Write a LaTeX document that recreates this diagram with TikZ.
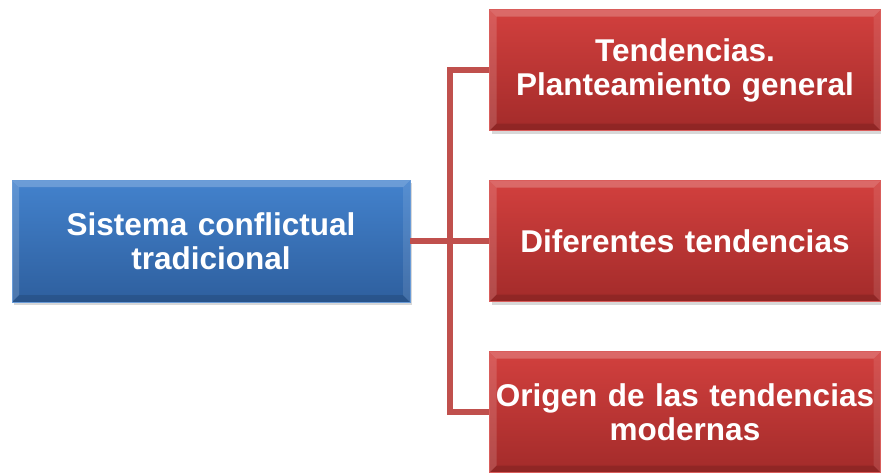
\documentclass[tikz,border=0pt]{standalone}
\usepackage{fontspec}
\setmainfont{Liberation Sans}
\usetikzlibrary{shadows}
\definecolor{bluetop}{HTML}{4382CD}
\definecolor{bluebot}{HTML}{2E5F9E}
\definecolor{redtop}{HTML}{D2403E}
\definecolor{redbot}{HTML}{A32B2A}
\definecolor{linec}{HTML}{C0504D}
\tikzset{
  bevel/.style={path picture={
    \fill[white,opacity=0.22] (path picture bounding box.north west) -- (path picture bounding box.north east)
      -- ([shift={(-7pt,-7pt)}]path picture bounding box.north east) -- ([shift={(7pt,-7pt)}]path picture bounding box.north west) -- cycle;
    \fill[white,opacity=0.15] (path picture bounding box.north west) -- (path picture bounding box.south west)
      -- ([shift={(7pt,7pt)}]path picture bounding box.south west) -- ([shift={(7pt,-7pt)}]path picture bounding box.north west) -- cycle;
    \fill[black,opacity=0.12] (path picture bounding box.south west) -- (path picture bounding box.south east)
      -- ([shift={(-7pt,7pt)}]path picture bounding box.south east) -- ([shift={(7pt,7pt)}]path picture bounding box.south west) -- cycle;
    \fill[white,opacity=0.10] (path picture bounding box.north east) -- (path picture bounding box.south east)
      -- ([shift={(-7pt,7pt)}]path picture bounding box.south east) -- ([shift={(-7pt,-7pt)}]path picture bounding box.north east) -- cycle;
  }},
  box/.style={rectangle, inner sep=0pt, align=center, text=white,
    font=\bfseries\fontsize{31.5}{34}\selectfont, bevel,
    drop shadow={shadow xshift=2pt, shadow yshift=-3pt, opacity=0.3, fill=black!50}},
  bluebox/.style={box, top color=bluetop, bottom color=bluebot, draw=bluetop!80!white, line width=0.6pt,
    minimum width=398pt, minimum height=122pt, text width=390pt},
  redbox/.style={box, top color=redtop, bottom color=redbot, draw=redtop!85!white, line width=0.6pt,
    minimum width=391pt, minimum height=121pt, text width=388pt},
  conn/.style={draw=linec, line width=5.5pt}
}
\begin{document}
\begin{tikzpicture}[x=1pt,y=-1pt]
\useasboundingbox (0,0) rectangle (881,472);
\fill[white] (0,0) rectangle (881,472);
\node[bluebox] (main) at (211,241) {Sistema conflictual\\tradicional};
\node[redbox] (r1) at (685,70) {Tendencias.\\Planteamiento general};
\node[redbox] (r2) at (685,241) {Diferentes tendencias};
\node[redbox] (r3) at (685,412) {Origen de las tendencias\\modernas};
\coordinate (spinetop) at (450,70);
\draw[conn] (main.east) -- (r2.west);
\draw[conn] (r1.west) -- (spinetop) |- (r3.west);
\end{tikzpicture}
\end{document}
